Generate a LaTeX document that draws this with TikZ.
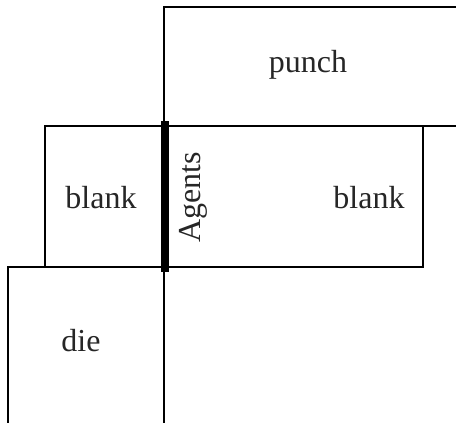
\documentclass[tikz,border=0pt]{standalone}
\usepackage{fontspec}
\setmainfont{Liberation Serif}
\begin{document}
\begin{tikzpicture}[x=1pt,y=-1pt,
  part/.style={draw=black,line width=2pt},
  lbl/.style={anchor=base,inner sep=0pt,font=\fontsize{32}{38}\selectfont,text=black!85}]
\useasboundingbox (0,0) rectangle (456,423);
% punch
\draw[part] (457,7) -- (164,7) -- (164,424);
% blank
\draw[part] (45,126) rectangle (423,267);
\draw[part] (423,126) -- (457,126);
% die
\draw[part] (8,424) -- (8,267) -- (164,267);
% agents bar
\draw[line width=8pt] (165,121) -- (165,272);
% labels
\node[lbl] (punch) at (308,72) {punch};
\node[lbl] (blankL) at (101,208) {blank};
\node[lbl] (blankR) at (369,208) {blank};
\node[lbl,rotate=90] (agents) at (200,197) {Agents};
\node[lbl] (die) at (81,351) {die};
\end{tikzpicture}
\end{document}
